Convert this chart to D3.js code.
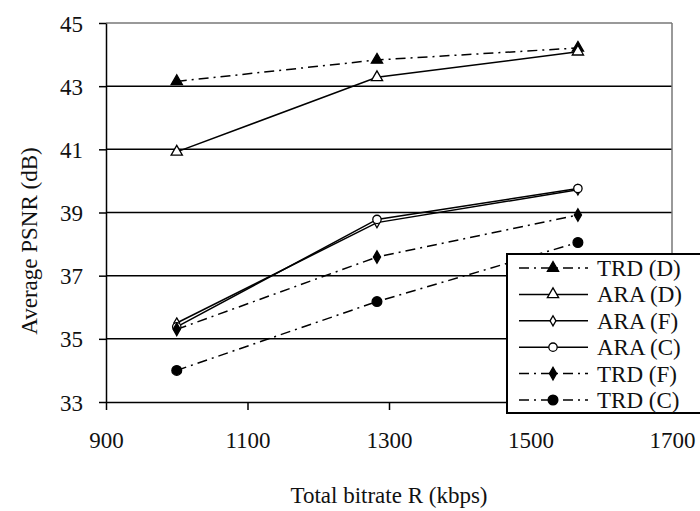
<!DOCTYPE html>
<html>
<head>
<meta charset="utf-8">
<script src="https://cdn.jsdelivr.net/npm/d3@7"></script>
<style>
  html, body { margin: 0; padding: 0; background: #fff; overflow: hidden; }
  svg { display: block; }
</style>
</head>
<body>
<svg id="chart" width="700" height="511" viewBox="0 0 700 511"></svg>
<script>
// ---- data ----
const bitrates = [1000, 1283, 1567];
const seriesNames = ["TRD (D)", "ARA (D)", "ARA (F)", "ARA (C)", "TRD (F)", "TRD (C)"];
const trdD = [43.15, 43.83, 44.21];
const araD = [40.92, 43.28, 44.09];
const araF = [35.50, 38.68, 39.72];
const araC = [35.38, 38.78, 39.76];
const trdF = [35.30, 37.59, 38.92];
const trdC = [34.00, 36.18, 38.05];
const xTicks = [900, 1100, 1300, 1500, 1700];
const yTicks = [33, 35, 37, 39, 41, 43, 45];
const xTitle = "Total bitrate R (kbps)";
const yTitle = "Average PSNR (dB)";

const FONT = "'Liberation Serif', 'Times New Roman', Times, serif";

// ---- styles ----
const styles = [
  { values: trdD, dash: "10,5,2,5", symbol: d3.symbolTriangle, size: 55, fill: "#000" },
  { values: araD, dash: null, symbol: d3.symbolTriangle, size: 55, fill: "#fff" },
  { values: araF, dash: null, symbol: d3.symbolDiamond, size: 30, fill: "#fff" },
  { values: araC, dash: null, symbol: d3.symbolCircle, size: 55, fill: "#fff" },
  { values: trdF, dash: "10,5,2,5", symbol: d3.symbolDiamond, size: 45, fill: "#000" },
  { values: trdC, dash: "10,5,2,5", symbol: d3.symbolCircle, size: 75, fill: "#000" }
];

const svg = d3.select("#chart");
const x = d3.scaleLinear().domain([900, 1700]).range([106, 672]);
const y = d3.scaleLinear().domain([33, 45]).range([402, 23]);

// gridlines
svg.append("g").selectAll("line").data(yTicks.filter(v => v > 33)).join("line")
  .attr("x1", x(900)).attr("x2", x(1700))
  .attr("y1", d => y(d)).attr("y2", d => y(d))
  .attr("stroke", d => d === 45 ? "#999" : "#000")
  .attr("stroke-width", d => d === 45 ? 2 : 1.5);
// right border
svg.append("line")
  .attr("x1", x(1700)).attr("x2", x(1700)).attr("y1", y(45)).attr("y2", y(33))
  .attr("stroke", "#777").attr("stroke-width", 1.5);

// axes
const xAxis = svg.append("g").attr("transform", `translate(0,${y(33)})`)
  .call(d3.axisBottom(x).tickValues(xTicks).tickSize(8).tickSizeOuter(0).tickFormat(d3.format("d")));
xAxis.selectAll("text").attr("y", 46).attr("dy", 0);
const yAxis = svg.append("g").attr("transform", `translate(${x(900)},0)`)
  .call(d3.axisLeft(y).tickValues(yTicks).tickSize(7).tickSizeOuter(0).tickFormat(d3.format("d")));
yAxis.selectAll("text").attr("x", -23).attr("dy", "0.35em");
[xAxis, yAxis].forEach(a => {
  a.attr("font-family", FONT).attr("font-size", 23);
  a.select(".domain").attr("stroke", "#000").attr("stroke-width", 1.5);
  a.selectAll(".tick line").attr("stroke", "#000").attr("stroke-width", 1.5);
  a.selectAll("text").attr("fill", "#111");
});

// series
const line = d3.line().x((d, i) => x(bitrates[i])).y(d => y(d));
const seriesG = svg.append("g");
styles.forEach(s => {
  seriesG.append("path").datum(s.values)
    .attr("d", line).attr("fill", "none").attr("stroke", "#000")
    .attr("stroke-width", 1.5).attr("stroke-dasharray", s.dash);
});
styles.forEach(s => {
  seriesG.append("g").selectAll("path").data(s.values).join("path")
    .attr("transform", (d, i) => `translate(${x(bitrates[i])},${y(d)})`)
    .attr("d", d3.symbol().type(s.symbol).size(s.size))
    .attr("fill", s.fill).attr("stroke", "#000").attr("stroke-width", 1.3);
});

// axis titles
svg.append("text").attr("x", 389).attr("y", 503).attr("text-anchor", "middle")
  .attr("font-family", FONT).attr("font-size", 23).attr("fill", "#111").text(xTitle);
svg.append("text").attr("transform", "translate(37,241) rotate(-90)")
  .attr("text-anchor", "middle").attr("font-family", FONT).attr("font-size", 23)
  .attr("fill", "#111").text(yTitle);

// legend
const lg = svg.append("g");
const lx = 507, ly = 254, lw = 210, lh = 159;
lg.append("rect").attr("x", lx).attr("y", ly).attr("width", lw).attr("height", lh)
  .attr("fill", "#fff").attr("stroke", "#000").attr("stroke-width", 2);
const rowY = i => 268 + i * 26.4;
styles.forEach((s, i) => {
  lg.append("line").attr("x1", 519).attr("x2", 588).attr("y1", rowY(i)).attr("y2", rowY(i))
    .attr("stroke", "#000").attr("stroke-width", 1.5).attr("stroke-dasharray", s.dash);
  lg.append("path").attr("transform", `translate(553,${rowY(i)})`)
    .attr("d", d3.symbol().type(s.symbol).size(s.size))
    .attr("fill", s.fill).attr("stroke", "#000").attr("stroke-width", 1.3);
  lg.append("text").attr("x", 597).attr("y", rowY(i)).attr("dy", "0.35em")
    .attr("font-family", FONT).attr("font-size", 23).attr("fill", "#111").text(seriesNames[i]);
});
</script>
</body>
</html>
